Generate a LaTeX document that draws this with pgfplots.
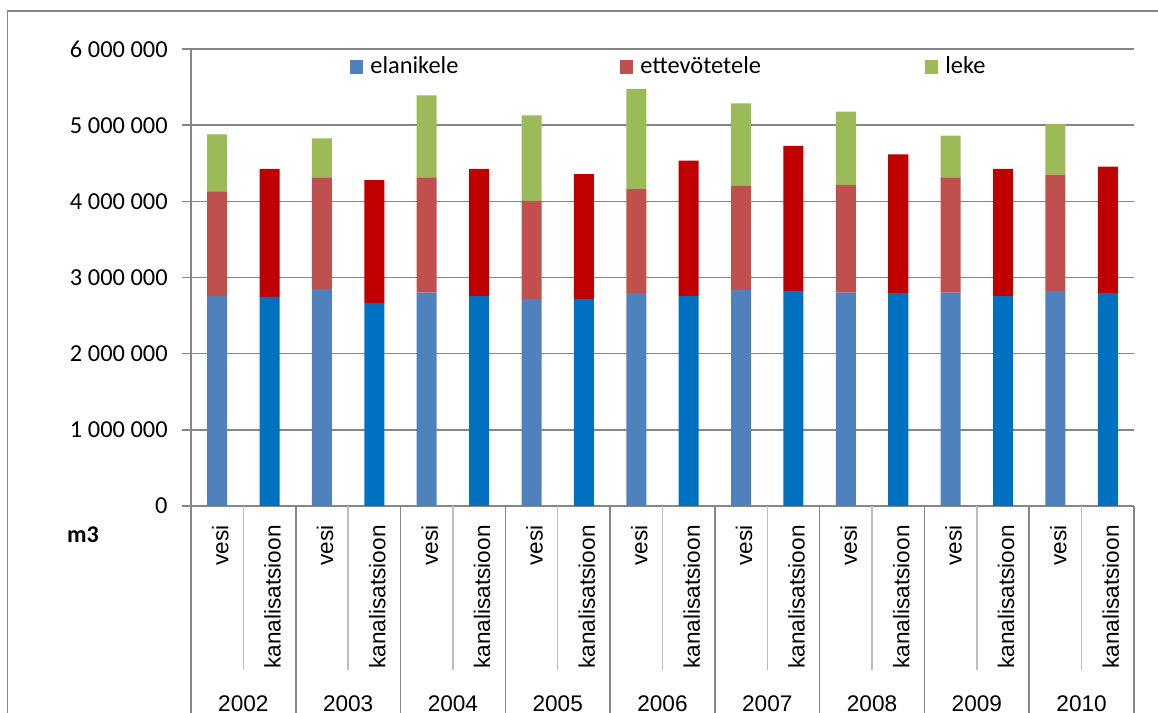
\documentclass[border=0pt]{standalone}
\usepackage{fontspec}
\setmainfont{Carlito}
\newfontfamily\arialfont{Liberation Sans}
\usepackage{pgfplots}
\usepackage{pgfplotstable}
\pgfplotsset{compat=1.18}
\definecolor{VesiBlue}{RGB}{79,129,189}
\definecolor{KanalBlue}{RGB}{0,112,192}
\definecolor{VesiRed}{RGB}{192,80,77}
\definecolor{KanalRed}{RGB}{192,0,0}
\definecolor{LekeGreen}{RGB}{155,187,89}
\definecolor{GridGray}{RGB}{134,134,134}
\definecolor{SepGray}{RGB}{190,190,190}

% x: 0,2,4,... vesi; 1,3,5,... kanalisatsioon
\pgfplotstableread{
x  vb      kb      vr      kr      vg
0  2755000 0       1375000 0       750000
1  0       2747000 0       1679000 0
2  2852000 0       1464000 0       512000
3  0       2668000 0       1609000 0
4  2800000 0       1516000 0       1076000
5  0       2755000 0       1671000 0
6  2720000 0       1286000 0       1124000
7  0       2720000 0       1636000 0
8  2795000 0       1364000 0       1316000
9  0       2755000 0       1780000 0
10 2834000 0       1369000 0       1084000
11 0       2826000 0       1901000 0
12 2800000 0       1416000 0       962000
13 0       2795000 0       1823000 0
14 2800000 0       1516000 0       547000
15 0       2755000 0       1671000 0
16 2826000 0       1525000 0       665000
17 0       2795000 0       1661000 0
}\datatable

\begin{document}
\begin{tikzpicture}
\path[use as bounding box] (0,0) rectangle (579pt,356.5pt);
% chart area border
\draw[GridGray, line width=0.75pt] (3.75pt,-5pt) -- (3.75pt,351pt) -- (590pt,351pt);

\begin{axis}[
  at={(95.5pt,103.5pt)}, anchor=south west,
  scale only axis, width=471.5pt, height=228.5pt,
  ybar stacked, bar width=10pt,
  xmin=-0.5, xmax=17.5, ymin=0, ymax=6000000,
  scaled y ticks=false,
  ytick={0,1000000,2000000,3000000,4000000,5000000,6000000},
  yticklabels={0,1 000 000,2 000 000,3 000 000,4 000 000,5 000 000,6 000 000},
  yticklabel style={anchor=east, inner sep=0pt, xshift=-7pt,
    font=\fontsize{12.2}{14}\selectfont},
  xtick={0,...,17},
  xticklabels={vesi,kanalisatsioon,vesi,kanalisatsioon,vesi,kanalisatsioon,
    vesi,kanalisatsioon,vesi,kanalisatsioon,vesi,kanalisatsioon,
    vesi,kanalisatsioon,vesi,kanalisatsioon,vesi,kanalisatsioon},
  % rotated frame: local x points up, local y points left
  xticklabel style={rotate=90, anchor=east, inner sep=0pt, xshift=-5pt, yshift=-1.5pt,
    font=\arialfont\fontsize{11.3}{13}\selectfont},
  xtick style={draw=none},
  ytick style={GridGray, line width=0.75pt},
  tick align=outside, major tick length=4.5pt,
  axis x line*=bottom, axis y line*=left,
  axis line style={GridGray, line width=0.75pt},
  ymajorgrids, grid style={GridGray, line width=0.75pt},
  clip=false,
  legend columns=-1,
  legend style={at={(axis description cs:0.1686,0.9606)}, anchor=west,
    draw=none, fill=none, inner sep=0pt,
    /tikz/every even column/.append style={column sep=0pt},
    nodes={inner sep=0pt, font=\fontsize{12.2}{14}\selectfont}},
  legend image code/.code={\fill[#1] (0pt,-3.5pt) rectangle (6.5pt,3.5pt);},
]
\addplot[fill=VesiBlue, draw=none] table[x=x, y=vb] {\datatable};
\addplot[fill=KanalBlue, draw=none] table[x=x, y=kb] {\datatable};
\addplot[fill=VesiRed, draw=none] table[x=x, y=vr] {\datatable};
\addplot[fill=KanalRed, draw=none] table[x=x, y=kr] {\datatable};
\addplot[fill=LekeGreen, draw=none] table[x=x, y=vg] {\datatable};
\legend{\makebox[128.5pt][l]{\hspace{3.5pt}elanikele},,
  \makebox[146pt][l]{\hspace{3.5pt}ettevötetele},,
  \hspace{3.5pt}leke}
\end{axis}

% category separators below the axis
\foreach \k in {0,...,9}
  \draw[GridGray, line width=0.75pt] ({95.5pt+\k*52.389pt},103.5pt) -- ({95.5pt+\k*52.389pt},-5pt);
\foreach \k in {0,...,8}
  \draw[SepGray, line width=0.75pt] ({121.69pt+\k*52.389pt},103.5pt) -- ({121.69pt+\k*52.389pt},21.5pt);
% years
\foreach \k/\y in {0/2002,1/2003,2/2004,3/2005,4/2006,5/2007,6/2008,7/2009,8/2010}
  \node[anchor=base, inner sep=0pt, font=\arialfont\fontsize{11.3}{13}\selectfont]
    at ({121.69pt+\k*52.389pt},1pt) {\y};
\node[font=\bfseries\fontsize{12}{14}\selectfont] at (41.5pt,89pt) {m3};
\end{tikzpicture}
\end{document}
